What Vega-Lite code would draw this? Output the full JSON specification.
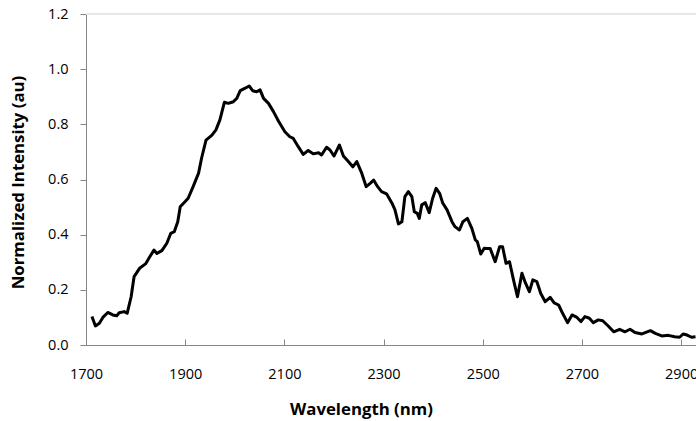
{
  "$schema": "https://vega.github.io/schema/vega-lite/v6.json",
  "width": 610,
  "height": 331,
  "autosize": {"type": "none"},
  "padding": {"left": 86, "top": 14, "right": 0, "bottom": 76},
  "background": "white",
  "config": {
    "view": {"stroke": null},
    "font": "Open Sans",
    "axis": {
      "labelFont": "Open Sans",
      "titleFont": "Open Sans",
      "labelColor": "#000000",
      "titleColor": "#000000",
      "domainColor": "#868686",
      "tickColor": "#868686",
      "domainWidth": 1,
      "tickWidth": 1,
      "labelFontSize": 14.5,
      "titleFontSize": 16.8,
      "titleFontWeight": "bold",
      "grid": false
    }
  },
  "data": {
    "values": [
      {"wl": 1712, "v": 0.103}, {"wl": 1719, "v": 0.069}, {"wl": 1727, "v": 0.079}, {"wl": 1734, "v": 0.100},
      {"wl": 1744, "v": 0.118}, {"wl": 1754, "v": 0.109}, {"wl": 1762, "v": 0.106}, {"wl": 1767, "v": 0.117},
      {"wl": 1777, "v": 0.121}, {"wl": 1783, "v": 0.115}, {"wl": 1791, "v": 0.175}, {"wl": 1797, "v": 0.248},
      {"wl": 1808, "v": 0.278}, {"wl": 1820, "v": 0.294}, {"wl": 1828, "v": 0.318}, {"wl": 1837, "v": 0.344},
      {"wl": 1843, "v": 0.332}, {"wl": 1853, "v": 0.342}, {"wl": 1863, "v": 0.369}, {"wl": 1871, "v": 0.405},
      {"wl": 1878, "v": 0.411}, {"wl": 1885, "v": 0.447}, {"wl": 1890, "v": 0.501}, {"wl": 1900, "v": 0.520},
      {"wl": 1906, "v": 0.532}, {"wl": 1916, "v": 0.574}, {"wl": 1927, "v": 0.623}, {"wl": 1933, "v": 0.677},
      {"wl": 1942, "v": 0.743}, {"wl": 1954, "v": 0.761}, {"wl": 1962, "v": 0.780}, {"wl": 1970, "v": 0.816},
      {"wl": 1979, "v": 0.880}, {"wl": 1987, "v": 0.876}, {"wl": 1997, "v": 0.882}, {"wl": 2004, "v": 0.894},
      {"wl": 2011, "v": 0.922}, {"wl": 2021, "v": 0.931}, {"wl": 2029, "v": 0.939}, {"wl": 2036, "v": 0.922},
      {"wl": 2044, "v": 0.918}, {"wl": 2051, "v": 0.925}, {"wl": 2058, "v": 0.894}, {"wl": 2068, "v": 0.876},
      {"wl": 2078, "v": 0.846}, {"wl": 2088, "v": 0.812}, {"wl": 2101, "v": 0.773}, {"wl": 2111, "v": 0.755},
      {"wl": 2118, "v": 0.749}, {"wl": 2128, "v": 0.719}, {"wl": 2138, "v": 0.691}, {"wl": 2148, "v": 0.705},
      {"wl": 2158, "v": 0.693}, {"wl": 2169, "v": 0.697}, {"wl": 2175, "v": 0.689}, {"wl": 2185, "v": 0.717},
      {"wl": 2192, "v": 0.707}, {"wl": 2200, "v": 0.685}, {"wl": 2211, "v": 0.725}, {"wl": 2219, "v": 0.685},
      {"wl": 2229, "v": 0.665}, {"wl": 2238, "v": 0.646}, {"wl": 2246, "v": 0.665}, {"wl": 2256, "v": 0.623},
      {"wl": 2265, "v": 0.574}, {"wl": 2273, "v": 0.586}, {"wl": 2280, "v": 0.598}, {"wl": 2288, "v": 0.574},
      {"wl": 2296, "v": 0.556}, {"wl": 2306, "v": 0.548}, {"wl": 2317, "v": 0.514}, {"wl": 2323, "v": 0.490},
      {"wl": 2330, "v": 0.439}, {"wl": 2337, "v": 0.447}, {"wl": 2343, "v": 0.538}, {"wl": 2350, "v": 0.556},
      {"wl": 2357, "v": 0.538}, {"wl": 2362, "v": 0.483}, {"wl": 2368, "v": 0.477}, {"wl": 2372, "v": 0.459},
      {"wl": 2377, "v": 0.508}, {"wl": 2384, "v": 0.516}, {"wl": 2392, "v": 0.480}, {"wl": 2399, "v": 0.532},
      {"wl": 2406, "v": 0.568}, {"wl": 2413, "v": 0.550}, {"wl": 2419, "v": 0.516}, {"wl": 2428, "v": 0.490},
      {"wl": 2438, "v": 0.447}, {"wl": 2444, "v": 0.429}, {"wl": 2453, "v": 0.417}, {"wl": 2460, "v": 0.447},
      {"wl": 2469, "v": 0.459}, {"wl": 2478, "v": 0.423}, {"wl": 2485, "v": 0.381}, {"wl": 2489, "v": 0.375},
      {"wl": 2496, "v": 0.330}, {"wl": 2503, "v": 0.351}, {"wl": 2508, "v": 0.350}, {"wl": 2515, "v": 0.350},
      {"wl": 2525, "v": 0.302}, {"wl": 2534, "v": 0.356}, {"wl": 2540, "v": 0.356}, {"wl": 2547, "v": 0.296},
      {"wl": 2554, "v": 0.302}, {"wl": 2562, "v": 0.236}, {"wl": 2570, "v": 0.175}, {"wl": 2579, "v": 0.260},
      {"wl": 2585, "v": 0.230}, {"wl": 2594, "v": 0.193}, {"wl": 2601, "v": 0.236}, {"wl": 2609, "v": 0.230},
      {"wl": 2617, "v": 0.187}, {"wl": 2626, "v": 0.157}, {"wl": 2636, "v": 0.173}, {"wl": 2644, "v": 0.153},
      {"wl": 2653, "v": 0.145}, {"wl": 2661, "v": 0.115}, {"wl": 2671, "v": 0.081}, {"wl": 2680, "v": 0.109},
      {"wl": 2690, "v": 0.100}, {"wl": 2698, "v": 0.085}, {"wl": 2706, "v": 0.103}, {"wl": 2715, "v": 0.097},
      {"wl": 2723, "v": 0.081}, {"wl": 2733, "v": 0.091}, {"wl": 2742, "v": 0.088}, {"wl": 2753, "v": 0.069},
      {"wl": 2764, "v": 0.048}, {"wl": 2776, "v": 0.057}, {"wl": 2787, "v": 0.048}, {"wl": 2797, "v": 0.057},
      {"wl": 2807, "v": 0.045}, {"wl": 2821, "v": 0.040}, {"wl": 2838, "v": 0.052}, {"wl": 2848, "v": 0.042},
      {"wl": 2861, "v": 0.033}, {"wl": 2874, "v": 0.035}, {"wl": 2887, "v": 0.030}, {"wl": 2897, "v": 0.028},
      {"wl": 2904, "v": 0.040}, {"wl": 2912, "v": 0.036}, {"wl": 2921, "v": 0.028}, {"wl": 2929, "v": 0.030}
    ]
  },
  "layer": [
    {
      "mark": {"type": "rule", "color": "#e6e6e6", "strokeWidth": 1},
      "encoding": {
        "y": {"datum": 1.2, "type": "quantitative", "scale": {"domain": [0, 1.2]}}
      }
    },
    {
      "mark": {"type": "line", "color": "#000000", "strokeWidth": 3, "clip": true, "strokeJoin": "round"},
      "encoding": {
        "x": {
          "field": "wl",
          "type": "quantitative",
          "scale": {"domain": [1700, 2930], "nice": false, "zero": false},
          "axis": {
            "title": "Wavelength (nm)",
            "values": [1700, 1900, 2100, 2300, 2500, 2700, 2900],
            "format": "d",
            "tickSize": -6,
            "labelPadding": 28,
            "labelFlush": false,
            "labelOverlap": false,
            "titleX": 275,
            "titleY": 64,
            "titleBaseline": "middle",
            "titleAnchor": null,
            "titleAlign": "center"
          }
        },
        "y": {
          "field": "v",
          "type": "quantitative",
          "scale": {"domain": [0, 1.2], "nice": false},
          "axis": {
            "title": "Normalized Intensity (au)",
            "values": [0, 0.2, 0.4, 0.6, 0.8, 1.0, 1.2],
            "format": ".1f",
            "tickSize": 6,
            "labelPadding": 12,
            "labelFlush": false,
            "labelOverlap": false,
            "titleX": -68,
            "titleY": 168,
            "titleBaseline": "middle",
            "titleAlign": "center",
            "titleAngle": -90
          }
        }
      }
    }
  ]
}
